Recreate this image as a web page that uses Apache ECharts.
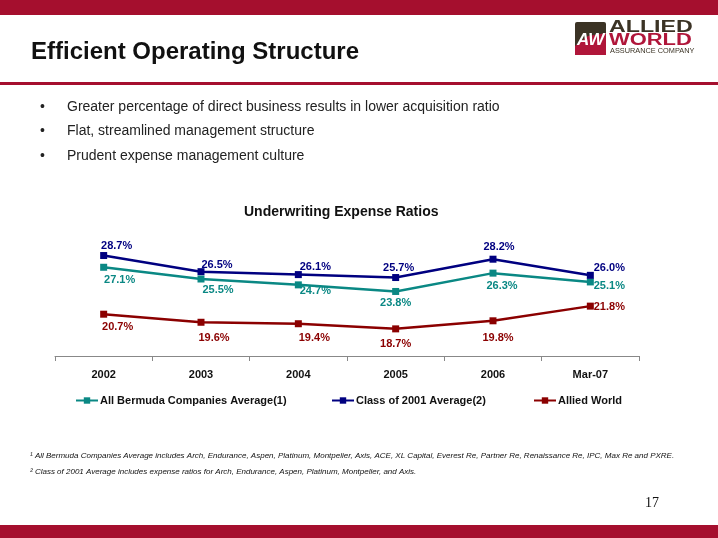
<!DOCTYPE html>
<html><head><meta charset="utf-8">
<script src="https://cdn.jsdelivr.net/npm/echarts@6/dist/echarts.min.js"></script>
<style>html,body{margin:0;padding:0;background:#fff}#c{width:718px;height:538px}</style>
</head><body><div id="c"></div>
<script>
var categories = ['2002','2003','2004','2005','2006','Mar-07'];
var bermudaAvg = [27.1, 25.5, 24.7, 23.8, 26.3, 25.1];
var class2001Avg = [28.7, 26.5, 26.1, 25.7, 28.2, 26.0];
var alliedWorld = [20.7, 19.6, 19.4, 18.7, 19.8, 21.8];
var seriesNames = ['All Bermuda Companies Average(1)', 'Class of 2001 Average(2)', 'Allied World'];
var bullets = ['Greater percentage of direct business results in lower acquisition ratio',
  'Flat, streamlined management structure',
  'Prudent expense management culture'];
var footnotes = ['\u00B9 All Bermuda Companies Average includes Arch, Endurance, Aspen, Platinum, Montpelier, Axis, ACE, XL Capital, Everest Re, Partner Re, Renaissance Re, IPC, Max Re and PXRE.',
  '\u00B2 Class of 2001 Average includes expense ratios for Arch, Endurance, Aspen, Platinum, Montpelier, and Axis.'];

var RED = '#A50F2E';
var colors = ['#0A8884', '#000080', '#8B0000'];
var FONT = '"Liberation Sans", Arial, sans-serif';

// label offsets (style)
var offs = [
  [[16,13],[17,11],[17,6],[0,12],[9,13],[19,4]],
  [[13,-10],[16,-7],[17,-8],[3,-10],[6,-12],[19,-7]],
  [[14,13],[13,16],[16,14],[0,15],[5,17],[19,1]]
];
function mk(vals, si){
  return vals.map(function(v,i){
    return {value: v, label: {offset: offs[si][i]}};
  });
}
var allData = [bermudaAvg, class2001Avg, alliedWorld];
var series = allData.map(function(vals, si){
  return {
    name: seriesNames[si], type: 'line', data: mk(vals, si),
    symbol: 'rect', symbolSize: 7, z: si===1?3:2,
    lineStyle: {width: 2.5, color: colors[si]},
    itemStyle: {color: colors[si]},
    label: {show: true, position: 'inside', color: colors[si], fontFamily: FONT,
      fontWeight: 'bold', fontSize: 11, formatter: function(p){return p.value.toFixed(1)+'%';}},
    animation: false
  };
});

var legendLefts = [70, 326, 528];
var legends = seriesNames.map(function(n, i){
  return {data:[n], left: legendLefts[i], top: 390, itemWidth: 22, itemHeight: 8, itemGap: 0,
    textStyle:{fontFamily: FONT, fontSize: 11, fontWeight:'bold', color:'#111', padding:[0,0,0,-3]}, selectedMode:false};
});

var graphics = [
  {type:'rect', shape:{x:0,y:0,width:718,height:15}, style:{fill:RED}},
  {type:'rect', shape:{x:0,y:82,width:718,height:3}, style:{fill:RED}},
  {type:'rect', shape:{x:0,y:525,width:718,height:13}, style:{fill:RED}},
  {type:'text', left:31, top:40, style:{text:'Efficient Operating Structure', font:'bold 24px '+FONT, fill:'#111'}},
  // logo
  {type:'rect', shape:{x:575,y:22,width:31,height:33,r:2}, style:{fill:'#3B3325'}},
  {type:'polygon', shape:{points:[[575,46],[588,36],[606,33],[606,55],[575,55]]}, style:{fill:'#B0163A'}},
  {type:'text', left:577, top:32, style:{text:'AW', font:'italic bold 17px '+FONT, fill:'#fff'}},
  {type:'text', x:609, y:20, scaleX:1.45, style:{text:'ALLIED', font:'bold 16px '+FONT, fill:'#3B3325'}},
  {type:'text', x:609, y:33, scaleX:1.37, style:{text:'WORLD', font:'bold 16px '+FONT, fill:'#B0163A'}},
  {type:'text', x:610, y:48, scaleX:1.05, style:{text:'ASSURANCE COMPANY', font:'7px '+FONT, fill:'#3B3325'}},
  {type:'text', left:244, top:205, style:{text:'Underwriting Expense Ratios', font:'bold 14px '+FONT, fill:'#111'}},
  {type:'text', left:645, top:496, style:{text:'17', font:'14px "Liberation Serif", "Times New Roman", serif', fill:'#111'}}
];
bullets.forEach(function(b,i){
  graphics.push({type:'text', left:40, top:100+i*24.5, style:{text:'\u2022', font:'14px '+FONT, fill:'#222'}});
  graphics.push({type:'text', left:67, top:100+i*24.5, style:{text:b, font:'14px '+FONT, fill:'#222'}});
});
footnotes.forEach(function(f,i){
  graphics.push({type:'text', left:30, top:452+i*15.5, style:{text:f, font:'italic 8px '+FONT, fill:'#111'}});
});

var chart = echarts.init(document.getElementById('c'), null, {renderer:'canvas'});
chart.setOption({
  animation: false,
  color: colors,
  grid: {left: 55, right: 79, top: 246, bottom: 182},
  legend: legends,
  xAxis: {type:'category', data: categories, boundaryGap: true,
    axisLine:{lineStyle:{color:'#888', width:1}},
    axisTick:{show:true, length:5, inside:false, lineStyle:{color:'#888'}},
    axisLabel:{fontFamily: FONT, fontSize: 11, fontWeight:'bold', color:'#111', margin: 13}},
  yAxis: {type:'value', min: 15, max: 30, show: false, splitLine:{show:false}},
  series: series,
  graphic: graphics
});
</script></body></html>
